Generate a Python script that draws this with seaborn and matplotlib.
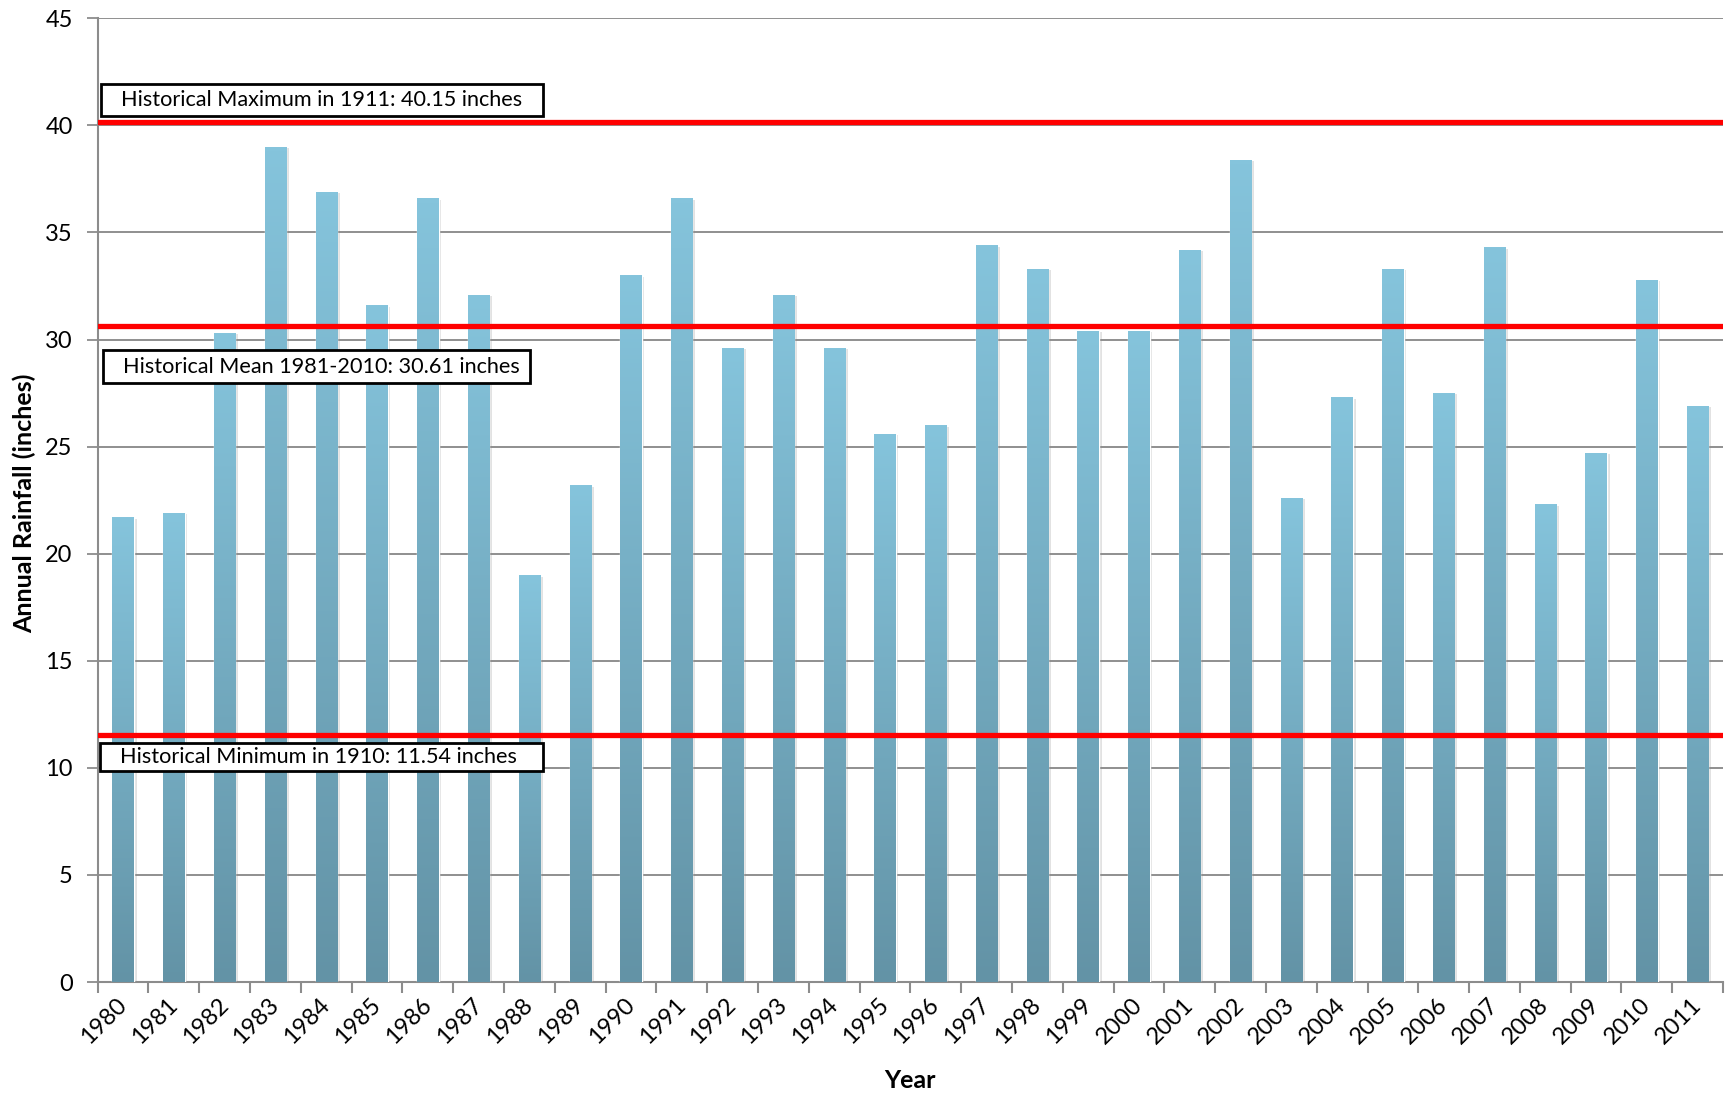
import numpy as np
import pandas as pd
import matplotlib
matplotlib.use("Agg")
import matplotlib.pyplot as plt
import matplotlib.patheffects as pe
import seaborn as sns
from matplotlib.colors import LinearSegmentedColormap
from matplotlib.patches import Rectangle
from matplotlib import transforms

# Annual rainfall by year (inches)
years = [str(y) for y in range(1980, 2012)]
rainfall = [21.7, 21.9, 30.3, 39.0, 36.9, 31.6, 36.6, 32.1, 19.0, 23.2,
            33.0, 36.6, 29.6, 32.1, 29.6, 25.6, 26.0, 34.4, 33.3, 30.4,
            30.4, 34.2, 38.4, 22.6, 27.3, 33.3, 27.5, 34.3, 22.3, 24.7,
            32.8, 26.9]

# Historical reference levels and their captions
ref_values = [40.15, 30.61, 11.54]
ref_labels = ["Historical Maximum in 1911: 40.15 inches",
              "Historical Mean 1981-2010: 30.61 inches",
              "Historical Minimum in 1910: 11.54 inches"]

y_ticks = list(range(0, 50, 5))

sns.set_theme(style="white")
plt.rcParams["font.family"] = ["Lato", "DejaVu Sans"]
plt.rcParams["text.color"] = "black"
plt.rcParams["axes.labelcolor"] = "black"
plt.rcParams["xtick.color"] = "black"
plt.rcParams["ytick.color"] = "black"

fig = plt.figure(figsize=(17.26, 10.93), dpi=100)
ax = fig.add_axes([0.0566, 0.1015, 0.9417, 0.8818])

df = pd.DataFrame({"Year": years, "Rainfall": rainfall})
sns.barplot(data=df, x="Year", y="Rainfall", ax=ax, width=0.42,
            color="#7BB5CB", saturation=1, zorder=3, errorbar=None)

# vertical gradient inside each bar: dark teal at the base, light blue at the top
cmap = LinearSegmentedColormap.from_list("bar_grad", ["#6393A6", "#85C4DC"])
grad = np.linspace(0, 1, 256).reshape(-1, 1)
for patch in list(ax.patches):
    x0, y0 = patch.get_x(), patch.get_y()
    w, h = patch.get_width(), patch.get_height()
    patch.set_path_effects([pe.SimplePatchShadow(offset=(2, -1), shadow_rgbFace="0.55", alpha=0.25),
                            pe.Normal()])
    im = ax.imshow(grad, extent=[x0, x0 + w, y0, y0 + h], origin="lower",
                   aspect="auto", cmap=cmap, zorder=3.1, interpolation="bilinear")
    im.set_clip_path(patch)

ax.set_xlim(-0.5, len(years) - 0.5)
ax.set_ylim(0, 45)
ax.set_yticks(y_ticks)

# gridlines and axes
ax.yaxis.grid(True, color="#8f8f8f", lw=1.4, zorder=0)
ax.xaxis.grid(False)
ax.set_axisbelow(True)
for s in ["top", "right"]:
    ax.spines[s].set_visible(False)
for s in ["left", "bottom"]:
    ax.spines[s].set_color("#8c8c8c")
    ax.spines[s].set_linewidth(1.5)

ax.set_xticks(np.arange(-0.5, len(years), 1.0), minor=True)
ax.tick_params(axis="x", which="major", length=0, labelsize=17, pad=14, bottom=True)
ax.tick_params(axis="x", which="minor", length=8, width=1.5, color="#8c8c8c", bottom=True)
ax.tick_params(axis="y", which="major", length=8, width=1.3, color="#8c8c8c",
               labelsize=17, pad=10, left=True)
for lbl in ax.get_xticklabels():
    lbl.set_rotation(45)
    lbl.set_ha("right")
    lbl.set_va("center")
    lbl.set_rotation_mode("anchor")

ax.set_xlabel("Year", fontsize=18, fontweight="bold")
ax.set_ylabel("Annual Rainfall (inches)", fontsize=18, fontweight="bold")
ax.xaxis.set_label_coords(0.5, -0.090)
ax.yaxis.set_label_coords(-0.038, 0.497)

# reference lines
for v in ref_values:
    ax.axhline(v, color="#FF0000", lw=3.8, zorder=4)

# caption boxes: (left, right) in axes fraction, (bottom, top) and text centre in data units
trans = transforms.blended_transform_factory(ax.transAxes, ax.transData)
box_geom = [(0.0018, 0.2738, 40.42, 41.91, 41.17),
            (0.0030, 0.2657, 27.97, 29.51, 28.74),
            (0.0015, 0.2738, 9.84, 11.14, 10.49)]
for label, (xl, xr, yb, yt, yc) in zip(ref_labels, box_geom):
    ax.add_patch(Rectangle((xl, yb), xr - xl, yt - yb, transform=trans,
                           facecolor="white", edgecolor="black", lw=2, zorder=5))
    ax.text(xl + 0.0125, yc, label, transform=trans, ha="left", va="center",
            fontsize=15.6, color="black", zorder=6)

fig.savefig("out.png", dpi=100)
